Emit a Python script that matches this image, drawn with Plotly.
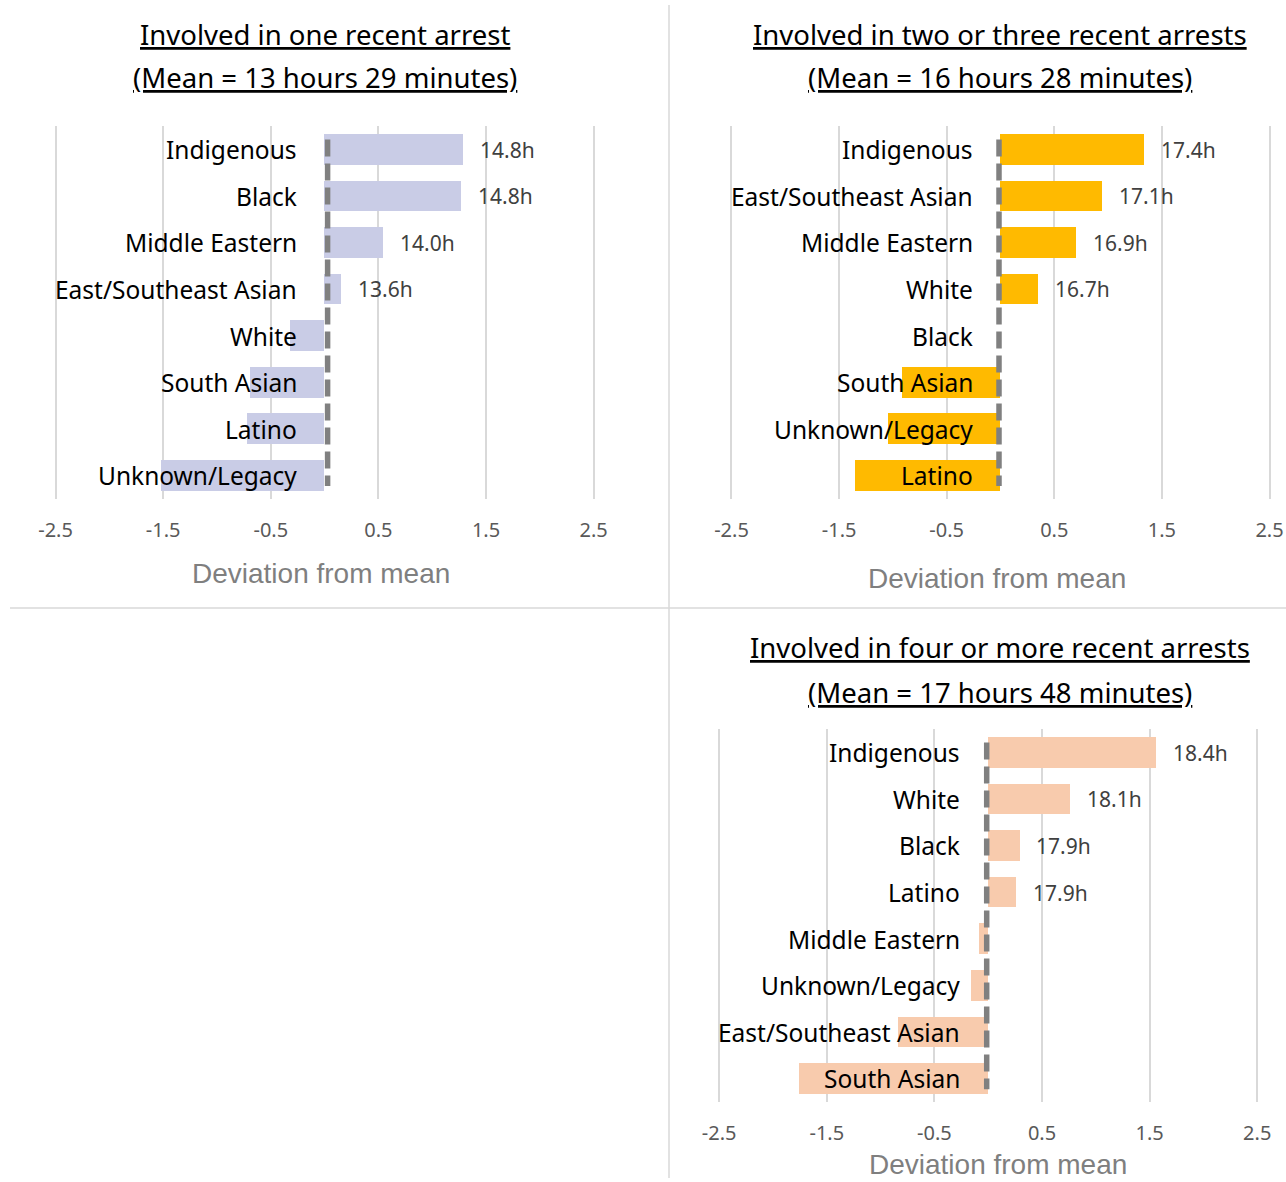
import plotly.graph_objects as go

# Panel 1: one recent arrest
p1_title = "Involved in one recent arrest"
p1_subtitle = "(Mean = 13 hours 29 minutes)"
p1_categories = ["Indigenous", "Black", "Middle Eastern", "East/Southeast Asian",
                 "White", "South Asian", "Latino", "Unknown/Legacy"]
p1_deviation = [1.29, 1.27, 0.54, 0.15, -0.32, -0.69, -0.72, -1.52]
p1_hours = [14.8, 14.8, 14.0, 13.6, None, None, None, None]

# Panel 2: two or three recent arrests
p2_title = "Involved in two or three recent arrests"
p2_subtitle = "(Mean = 16 hours 28 minutes)"
p2_categories = ["Indigenous", "East/Southeast Asian", "Middle Eastern", "White",
                 "Black", "South Asian", "Unknown/Legacy", "Latino"]
p2_deviation = [1.33, 0.94, 0.70, 0.35, 0.0, -0.91, -1.04, -1.35]
p2_hours = [17.4, 17.1, 16.9, 16.7, None, None, None, None]

# Panel 3: four or more recent arrests
p3_title = "Involved in four or more recent arrests"
p3_subtitle = "(Mean = 17 hours 48 minutes)"
p3_categories = ["Indigenous", "White", "Black", "Latino", "Middle Eastern",
                 "Unknown/Legacy", "East/Southeast Asian", "South Asian"]
p3_deviation = [1.56, 0.76, 0.29, 0.26, -0.09, -0.16, -0.84, -1.76]
p3_hours = [18.4, 18.1, 17.9, 17.9, None, None, None, None]

tick_values = [-2.5, -1.5, -0.5, 0.5, 1.5, 2.5]
tick_labels = ["-2.5", "-1.5", "-0.5", "0.5", "1.5", "2.5"]
axis_title = "Deviation from mean"

W, H = 1286, 1182
FONT = "Noto Sans"


def px_x(v):
    return v / W


def px_y(v):
    return 1 - v / H


panels = [
    dict(cats=p1_categories, dev=p1_deviation, hrs=p1_hours, title=p1_title,
         sub=p1_subtitle, color="#C9CCE6", xdom=[0.03904, 0.46579],
         ydom=[0.57775, 0.89306], title_x=325, title_y=(34, 78),
         axt=(321, 573), dash_dx=3),
    dict(cats=p2_categories, dev=p2_deviation, hrs=p2_hours, title=p2_title,
         sub=p2_subtitle, color="#FFBA00", xdom=[0.56462, 0.99137],
         ydom=[0.57775, 0.89306], title_x=1000, title_y=(34, 78),
         axt=(997, 578), dash_dx=-1.5),
    dict(cats=p3_categories, dev=p3_deviation, hrs=p3_hours, title=p3_title,
         sub=p3_subtitle, color="#F8CBAD", xdom=[0.55506, 0.98180],
         ydom=[0.06743, 0.38283], title_x=1000, title_y=(647, 692),
         axt=(998, 1164), dash_dx=-1.5),
]

fig = go.Figure()
annotations = []
shapes = []

for k, p in enumerate(panels, start=1):
    xa = "x" if k == 1 else f"x{k}"
    ya = "y" if k == 1 else f"y{k}"
    pos = list(range(len(p["cats"])))
    fig.add_trace(go.Bar(
        x=p["dev"], y=pos, orientation="h", width=0.66,
        marker=dict(color=p["color"], line=dict(width=0)),
        xaxis=xa, yaxis=ya, showlegend=False, hoverinfo="skip",
    ))
    layout_x = "xaxis" if k == 1 else f"xaxis{k}"
    layout_y = "yaxis" if k == 1 else f"yaxis{k}"
    fig.layout[layout_x] = dict(
        domain=p["xdom"], range=[-2.55, 2.55], anchor=ya, automargin=False,
        tickvals=tick_values, ticktext=tick_labels,
        showgrid=True, gridcolor="#D9D9D9", gridwidth=2,
        zeroline=False, showline=False, ticks="",
        tickfont=dict(family=FONT, size=20, color="#595959"),
        ticklabelstandoff=17, fixedrange=True,
    )
    fig.layout[layout_y] = dict(
        domain=p["ydom"], range=[len(pos) - 0.5, -0.5], anchor=xa,
        automargin=False, showticklabels=False, showgrid=False,
        zeroline=False, showline=False, ticks="", fixedrange=True,
    )
    # category names, right-aligned next to the zero line
    for i, c in enumerate(p["cats"]):
        annotations.append(dict(
            x=0, y=i, xref=xa, yref=ya, text=c, showarrow=False,
            xanchor="right", yanchor="middle", xshift=-26,
            font=dict(family=FONT, size=24.5, color="#000000"),
        ))
    # hour labels for bars above the mean
    for i, (d, h) in enumerate(zip(p["dev"], p["hrs"])):
        if h is None:
            continue
        annotations.append(dict(
            x=d, y=i, xref=xa, yref=ya, text=f"{h:.1f}h", showarrow=False,
            xanchor="left", yanchor="middle", xshift=15,
            font=dict(family=FONT, size=21, color="#404040"),
        ))
    # dashed mean line, nudged a few pixels off the zero position
    shapes.append(dict(
        type="line", xref=xa, yref=ya, xsizemode="pixel", xanchor=0,
        x0=p["dash_dx"], x1=p["dash_dx"], y0=-0.22,
        y1=len(pos) - 1 + 0.22, layer="above",
        line=dict(color="#808080", width=5.5, dash="17px,7px"),
    ))
    # titles
    for txt, ty in zip((p["title"], p["sub"]), p["title_y"]):
        annotations.append(dict(
            x=px_x(p["title_x"]), y=px_y(ty), xref="paper", yref="paper",
            text=f"<u>{txt}</u>", showarrow=False, xanchor="center",
            yanchor="middle", font=dict(family=FONT, size=27.5, color="#000000"),
        ))
    annotations.append(dict(
        x=px_x(p["axt"][0]), y=px_y(p["axt"][1]), xref="paper", yref="paper",
        text=axis_title, showarrow=False, xanchor="center", yanchor="middle",
        font=dict(family="Liberation Sans", size=28, color="#7F7F7F"),
    ))

# panel dividers
shapes.append(dict(type="line", xref="paper", yref="paper",
                   x0=px_x(10), x1=1, y0=px_y(608), y1=px_y(608),
                   line=dict(color="#D9D9D9", width=1.5)))
shapes.append(dict(type="line", xref="paper", yref="paper",
                   x0=px_x(669), x1=px_x(669), y0=px_y(5), y1=px_y(1178),
                   line=dict(color="#D9D9D9", width=1.5)))

fig.update_layout(
    width=W, height=H, margin=dict(l=0, r=0, t=0, b=0, autoexpand=False),
    paper_bgcolor="white", plot_bgcolor="white",
    annotations=annotations, shapes=shapes, bargap=0,
)

fig.write_html("out.html")
